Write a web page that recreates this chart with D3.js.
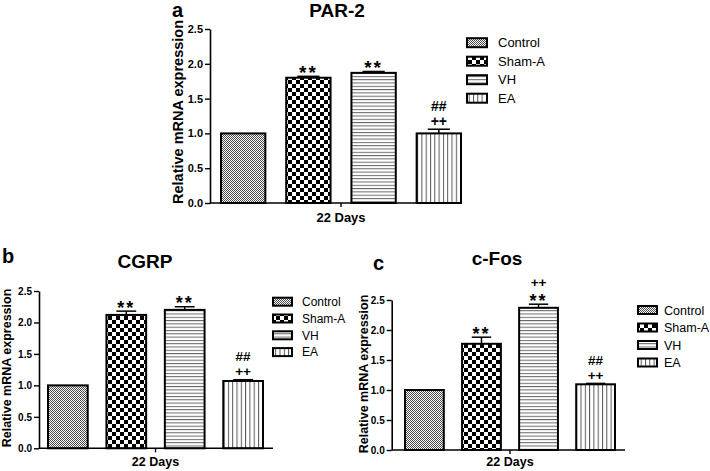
<!DOCTYPE html>
<html>
<head>
<meta charset="utf-8">
<script src="https://cdn.jsdelivr.net/npm/d3@7/dist/d3.min.js"></script>
<style>
  html, body { margin: 0; padding: 0; background: #fff; }
  svg { display: block; }
  text { font-family: Arial, "Liberation Sans", Helvetica, sans-serif; fill: #000; }
</style>
</head>
<body>
<svg id="chart" width="710" height="471"></svg>
<script>
// ---------- DATA ----------
const groups = ["Control", "Sham-A", "VH", "EA"];
const xCategory = "22 Days";
const yTicks = [0, 0.5, 1.0, 1.5, 2.0, 2.5];

const par2Means = [1.00, 1.80, 1.87, 1.00];
const par2Errs  = [0.00, 0.02, 0.02, 0.06];
const par2Marks = [[], ["**"], ["**"], ["##", "++"]];

const cgrpMeans = [1.00, 2.12, 2.20, 1.07];
const cgrpErrs  = [0.00, 0.06, 0.05, 0.02];
const cgrpMarks = [[], ["**"], ["**"], ["##", "++"]];

const cfosMeans = [1.00, 1.77, 2.37, 1.095];
const cfosErrs  = [0.00, 0.11, 0.06, 0.015];
const cfosMarks = [[], ["**"], ["++", "**"], ["##", "++"]];

const titles = ["PAR-2", "CGRP", "c-Fos"];
const letters = ["a", "b", "c"];
const yLabel = "Relative mRNA expression";

// ---------- PATTERNS ----------
const svg = d3.select("#chart");
const defs = svg.append("defs");
const patternIds = ["pControl", "pSham", "pVH", "pEA"];

{
  const p = defs.append("pattern").attr("id", "pControl").attr("patternUnits", "userSpaceOnUse")
    .attr("width", 2).attr("height", 2);
  p.append("rect").attr("width", 2).attr("height", 2).attr("fill", "#fff");
  p.append("rect").attr("width", 1).attr("height", 1).attr("fill", "#4a4a4a");
  p.append("rect").attr("x", 1).attr("y", 1).attr("width", 1).attr("height", 1).attr("fill", "#4a4a4a");
}
{
  const p = defs.append("pattern").attr("id", "pSham").attr("patternUnits", "userSpaceOnUse")
    .attr("width", 8).attr("height", 8);
  p.append("rect").attr("width", 8).attr("height", 8).attr("fill", "#fff");
  p.append("rect").attr("width", 4).attr("height", 4).attr("fill", "#000");
  p.append("rect").attr("x", 4).attr("y", 4).attr("width", 4).attr("height", 4).attr("fill", "#000");
}
{
  const p = defs.append("pattern").attr("id", "pVH").attr("patternUnits", "userSpaceOnUse")
    .attr("width", 4).attr("height", 3.3);
  p.append("rect").attr("width", 4).attr("height", 3.3).attr("fill", "#fff");
  p.append("rect").attr("y", 0).attr("width", 4).attr("height", 1).attr("fill", "#666");
}
{
  const p = defs.append("pattern").attr("id", "pEA").attr("patternUnits", "userSpaceOnUse")
    .attr("width", 4.3).attr("height", 4);
  p.append("rect").attr("width", 4.3).attr("height", 4).attr("fill", "#fff");
  p.append("rect").attr("x", 0).attr("width", 1).attr("height", 4).attr("fill", "#555");
}

const narrow = "'Liberation Sans Narrow', 'Arial Narrow', Arial, sans-serif";

// ---------- PANEL ----------
function panel(cfg) {
  const g = svg.append("g");
  const y = d3.scaleLinear().domain([0, 2.5]).range([cfg.y0, cfg.yTop]);
  const x = d3.scaleBand().domain(groups).range([cfg.bx0, cfg.bx1]).paddingInner(0.32).paddingOuter(0);

  const ax = g.append("g").attr("transform", `translate(${cfg.ax},0)`)
    .call(d3.axisLeft(y).tickValues(yTicks).tickFormat(d3.format(".1f")).tickSize(5).tickSizeOuter(0).tickPadding(2));
  ax.select(".domain").attr("stroke", "#000").attr("stroke-width", 1.6);
  ax.selectAll(".tick line").attr("stroke", "#000").attr("stroke-width", 1.4);
  ax.selectAll(".tick text").style("font-family", narrow)
    .style("font-weight", "bold").style("font-size", cfg.tickFs + "px").attr("fill", "#000");

  g.selectAll("rect.bar").data(cfg.means).enter().append("rect").attr("class", "bar")
    .attr("x", (d, i) => x(groups[i]))
    .attr("y", d => y(d))
    .attr("width", x.bandwidth())
    .attr("height", d => y(0) - y(d))
    .attr("fill", (d, i) => `url(#${patternIds[i]})`)
    .attr("stroke", "#000").attr("stroke-width", 2);

  cfg.means.forEach((m, i) => {
    const e = cfg.errs[i];
    if (e <= 0) return;
    const cx = x(groups[i]) + x.bandwidth() / 2;
    const cw = x.bandwidth() / 4;
    g.append("line").attr("x1", cx).attr("x2", cx).attr("y1", y(m)).attr("y2", y(m + e))
      .attr("stroke", "#000").attr("stroke-width", 1.5);
    g.append("line").attr("x1", cx - cw).attr("x2", cx + cw).attr("y1", y(m + e)).attr("y2", y(m + e))
      .attr("stroke", "#000").attr("stroke-width", 1.5);
  });

  // significance marks
  cfg.marks.forEach((arr, i) => {
    if (!arr.length) return;
    const cx = x(groups[i]) + x.bandwidth() / 2;
    const cap = y(cfg.means[i] + cfg.errs[i]);
    const n = arr.length;
    const bases = new Array(n);
    let base = arr[n - 1] === "**" ? cap + 0.14 * cfg.astFs : cap - 3.5;
    for (let k = n - 1; k >= 0; k--) {
      bases[k] = base;
      base -= (arr[k] === "**" ? 0.905 * cfg.astFs + 3 : 15);
    }
    const t = g.append("text").attr("text-anchor", "middle").style("font-weight", "bold");
    arr.forEach((s, k) => {
      const ts = t.append("tspan").attr("x", cx).attr("y", bases[k]).text(s);
      if (s === "**") ts.style("font-size", cfg.astFs + "px").attr("letter-spacing", "2px");
      else ts.style("font-size", cfg.symFs + "px");
    });
  });

  g.append("line").attr("x1", cfg.ax).attr("x2", cfg.axEnd).attr("y1", cfg.y0).attr("y2", cfg.y0)
    .attr("stroke", "#000").attr("stroke-width", 1.6);
  const mid = (cfg.bx0 + cfg.bx1) / 2;
  g.append("line").attr("x1", mid).attr("x2", mid).attr("y1", cfg.y0).attr("y2", cfg.y0 + 4)
    .attr("stroke", "#000").attr("stroke-width", 1.4);
  g.append("text").attr("x", mid).attr("y", cfg.xLabY).attr("text-anchor", "middle")
    .style("font-family", narrow)
    .style("font-weight", "bold").style("font-size", cfg.xLabFs + "px").text(xCategory);

  g.append("text").attr("transform", `translate(${cfg.yLabX},${cfg.yLabCy}) rotate(-90)`)
    .attr("text-anchor", "middle").style("font-weight", "bold").style("font-size", cfg.yLabFs + "px").text(yLabel);

  g.append("text").attr("x", cfg.titleX).attr("y", cfg.titleY).attr("text-anchor", "middle")
    .style("font-weight", "bold").style("font-size", cfg.titleFs + "px").text(cfg.title);
  g.append("text").attr("x", cfg.letterX).attr("y", cfg.letterY)
    .style("font-weight", "bold").style("font-size", cfg.letterFs + "px").text(cfg.letter);

  groups.forEach((name, i) => {
    const cy = cfg.legY + i * cfg.legDy;
    g.append("rect").attr("x", cfg.legX).attr("y", cy - cfg.swH / 2).attr("width", cfg.swW).attr("height", cfg.swH)
      .attr("fill", `url(#${patternIds[i]})`).attr("stroke", "#000").attr("stroke-width", 2);
    g.append("text").attr("x", cfg.legTx).attr("y", cy).attr("dy", "0.36em")
      .style("font-size", cfg.legFs + "px").text(name);
  });
}

panel({
  means: par2Means, errs: par2Errs, marks: par2Marks, title: titles[0], letter: letters[0],
  ax: 210, axEnd: 462, y0: 203, yTop: 29, bx0: 221, bx1: 461, tickFs: 11,
  xLabY: 222, xLabFs: 13, yLabX: 183, yLabCy: 112, yLabFs: 14.5,
  titleX: 337, titleY: 16.5, titleFs: 19, letterX: 172, letterY: 16.5, letterFs: 20,
  astFs: 19, symFs: 14,
  legX: 467, legTx: 498, legY: 42.7, legDy: 18.5, swW: 20, swH: 9, legFs: 13
});
panel({
  means: cgrpMeans, errs: cgrpErrs, marks: cgrpMarks, title: titles[1], letter: letters[1],
  ax: 39, axEnd: 273, y0: 448.3, yTop: 291, bx0: 48, bx1: 263, tickFs: 10,
  xLabY: 466, xLabFs: 12.5, yLabX: 11, yLabCy: 368, yLabFs: 12.5,
  titleX: 145, titleY: 268, titleFs: 19, letterX: 2, letterY: 263, letterFs: 20,
  astFs: 18, symFs: 13.5,
  legX: 273, legTx: 302, legY: 301.7, legDy: 16.8, swW: 19, swH: 8, legFs: 12
});
panel({
  means: cfosMeans, errs: cfosErrs, marks: cfosMarks, title: titles[2], letter: letters[2],
  ax: 391.7, axEnd: 625, y0: 450, yTop: 300, bx0: 405, bx1: 615, tickFs: 10,
  xLabY: 466, xLabFs: 12.5, yLabX: 367.5, yLabCy: 374, yLabFs: 12.5,
  titleX: 497, titleY: 265, titleFs: 19, letterX: 373, letterY: 270, letterFs: 20,
  astFs: 18, symFs: 13.5,
  legX: 638, legTx: 664, legY: 310, legDy: 17.5, swW: 19, swH: 8, legFs: 12.5
});
</script>
</body>
</html>
